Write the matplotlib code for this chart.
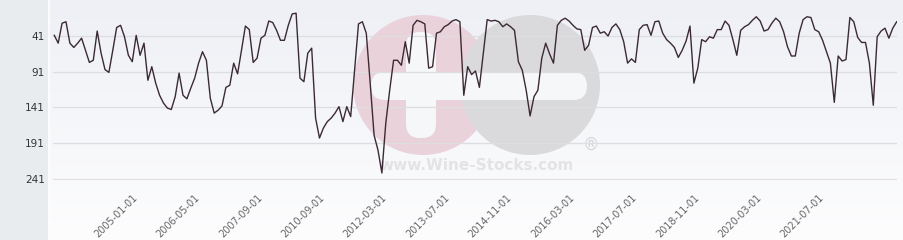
import matplotlib
matplotlib.use("Agg")
import matplotlib.pyplot as plt
import matplotlib.transforms as mtransforms
import numpy as np
import pandas as pd
from matplotlib.colors import LinearSegmentedColormap
from matplotlib.patches import Circle, FancyBboxPatch

# monthly categories, with the holes the source series has
months = (
    list(pd.date_range("2003-04-01", "2008-06-01", freq="MS").strftime("%Y-%m-%d"))
    + list(pd.date_range("2010-03-01", "2011-06-01", freq="MS").strftime("%Y-%m-%d"))
    + list(pd.date_range("2011-09-01", "2023-02-01", freq="MS").strftime("%Y-%m-%d"))
)

ranks = [
    40, 51, 23, 21, 51, 57, 51, 44, 61, 78, 75, 34, 65, 88, 92, 61, 29, 26, 42, 68,
    77, 40, 68, 51, 103, 84, 107, 124, 135, 142, 144, 126, 93, 124, 129, 114, 100, 79, 63, 75,
    128, 149, 145, 139, 113, 110, 79, 94, 61, 27, 32, 78, 72, 44, 40, 20, 22, 33, 47, 47,
    26, 10, 9, 100, 105, 65, 58, 156, 184, 170, 161, 156, 149, 140, 161, 140, 154, 89, 24, 21,
    37, 107, 180, 201, 233, 163, 117, 75, 75, 82, 49, 79, 26, 19, 21, 24, 86, 84, 37, 35,
    28, 25, 20, 18, 21, 124, 84, 95, 90, 113, 65, 18, 20, 19, 21, 28, 24, 28, 33, 77,
    89, 117, 153, 126, 117, 72, 51, 66, 79, 26, 19, 16, 20, 26, 31, 32, 61, 54, 29, 27,
    37, 35, 41, 29, 24, 32, 49, 79, 73, 78, 32, 26, 25, 40, 21, 20, 37, 46, 51, 57,
    71, 61, 48, 27, 107, 86, 46, 49, 42, 44, 32, 32, 20, 26, 46, 68, 33, 28, 25, 19,
    14, 20, 34, 32, 23, 16, 21, 35, 56, 69, 69, 37, 18, 14, 15, 32, 35, 47, 63, 79,
    134, 69, 76, 74, 15, 21, 43, 50, 50, 79, 138, 42, 34, 30, 44, 30, 21,
]

y_ticks = [41, 91, 141, 191, 241]
x_labels = ["2005-01-01", "2006-05-01", "2007-09-01", "2010-09-01", "2012-03-01",
            "2013-07-01", "2014-11-01", "2016-03-01", "2017-07-01", "2018-11-01",
            "2020-03-01", "2021-07-01"]

fig = plt.figure(figsize=(9.04, 2.4), dpi=100)
fig.patch.set_facecolor("#e9ecef")

# background layer in pixel coordinates (gradient + watermark)
bg = fig.add_axes([0, 0, 1, 1])
bg.axis("off")
grad = np.linspace(0, 1, 200).reshape(-1, 1)
cmap = LinearSegmentedColormap.from_list("bg", ["#eef0f5", "#fdfdfe"])
bg.imshow(grad, extent=(49, 904, 240, 0), cmap=cmap, aspect="auto")
bg.plot([49, 49], [0, 240], color="white", lw=1.2)
bg.add_patch(Circle((423, 85), 70, color="#ead2db", lw=0))
bg.add_patch(Circle((530, 85), 70, color="#dadadc", lw=0))
bg.add_patch(FancyBboxPatch((371, 72), 216, 28, boxstyle="round,pad=0,rounding_size=14",
                            color="#f6f7f9", lw=0))
bg.add_patch(FancyBboxPatch((406, 32), 30, 106, boxstyle="round,pad=0,rounding_size=14",
                            color="#f6f7f9", lw=0))
bg.text(477, 166, "www.Wine-Stocks.com", ha="center", va="center", fontsize=11,
        fontweight="bold", color="#e3e3e5")
bg.text(591, 145, "®", ha="center", va="center", fontsize=12, color="#d6d6d8")
bg.set_xlim(0, 904)
bg.set_ylim(240, 0)

ax = fig.add_axes([53 / 904, 60 / 240, 844 / 904, 180 / 240])
ax.set_facecolor("none")
x = np.arange(len(ranks))
ax.plot(x, ranks, color="#3b2a35", lw=1.0)

ax.set_xlim(-0.33, 216.08)
ax.set_ylim(242.8, -9.5)
ax.set_yticks(y_ticks)
ax.yaxis.grid(True, color="#dedede", lw=0.9)
ax.set_axisbelow(True)
ax.tick_params(axis="y", length=0, labelsize=7.5, labelcolor="#333333", pad=6)

ax.set_xticks([months.index(m) for m in x_labels])
ax.set_xticklabels(x_labels, rotation=45, ha="right", rotation_mode="anchor",
                   fontsize=7, color="#666666")
ax.tick_params(axis="x", length=0, pad=9)
shift = mtransforms.ScaledTranslation(-4 / 100, 0, fig.dpi_scale_trans)
for lbl in ax.get_xticklabels():
    lbl.set_transform(lbl.get_transform() + shift)
for s in ax.spines.values():
    s.set_visible(False)

fig.savefig("out.png", dpi=100)
